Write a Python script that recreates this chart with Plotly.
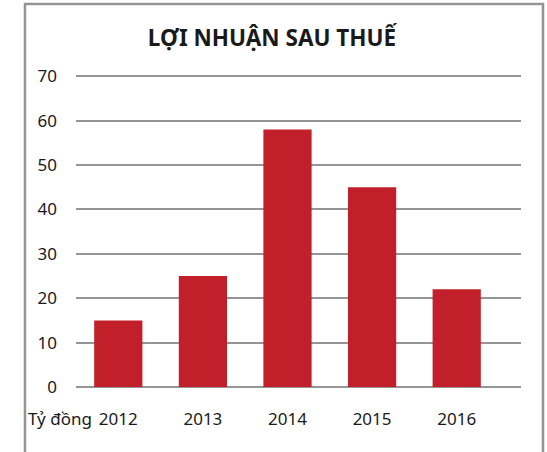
import plotly.graph_objects as go

years = ["2012", "2013", "2014", "2015", "2016"]
profit = [15, 25, 58, 45, 22]

_RED = "#C1202A"
_GRID = "#959595"
_FONT = "Noto Sans, Open Sans, sans-serif"

fig = go.Figure(go.Bar(
    x=years, y=profit,
    marker=dict(color=_RED, line=dict(width=0)),
    hovertemplate="%{x}: %{y}<extra></extra>",
))

# open frame: left, top, right (no bottom edge visible)
fig.add_shape(type="path", xref="paper", yref="paper",
              path="M -0.1146,-0.4 L -0.1146,1.2236 L 1.0494,1.2236 L 1.0494,-0.4",
              line=dict(color=_GRID, width=2.5))

fig.add_annotation(x=-0.036, y=-0.1, xref="paper", yref="paper",
                   text="Tỷ đồng", showarrow=False, xanchor="center", yanchor="middle",
                   font=dict(size=17, color="#1a1a1a"))

fig.update_layout(
    width=547, height=452,
    paper_bgcolor="white", plot_bgcolor="white",
    font=dict(family=_FONT, color="#1a1a1a", size=17),
    # range runs a little past 70 so the top gridline is drawn
    margin=dict(l=76, r=26, t=74, b=65),
    title=dict(text="<b>LỢI NHUẬN SAU THUẾ</b>", x=272 / 547, xanchor="center",
               y=1 - 38 / 452, yanchor="middle",
               font=dict(size=22.5, color="#1a1a1a")),
    bargap=0.43,
    showlegend=False,
    xaxis=dict(range=[-0.5, 4.76], showgrid=False, zeroline=False, showline=False,
               automargin=False, ticks="", ticklabelstandoff=20, tickfont=dict(size=17)),
    yaxis=dict(range=[0, 70.5], dtick=10, showgrid=True, gridcolor=_GRID, gridwidth=1.5,
               zeroline=True, zerolinecolor=_GRID, zerolinewidth=1.5, showline=False,
               automargin=False, ticks="", ticklabelstandoff=18, tickfont=dict(size=17)),
)

fig.write_html("out.html", config={"displayModeBar": False},
               post_script="document.body.style.margin='0';")
